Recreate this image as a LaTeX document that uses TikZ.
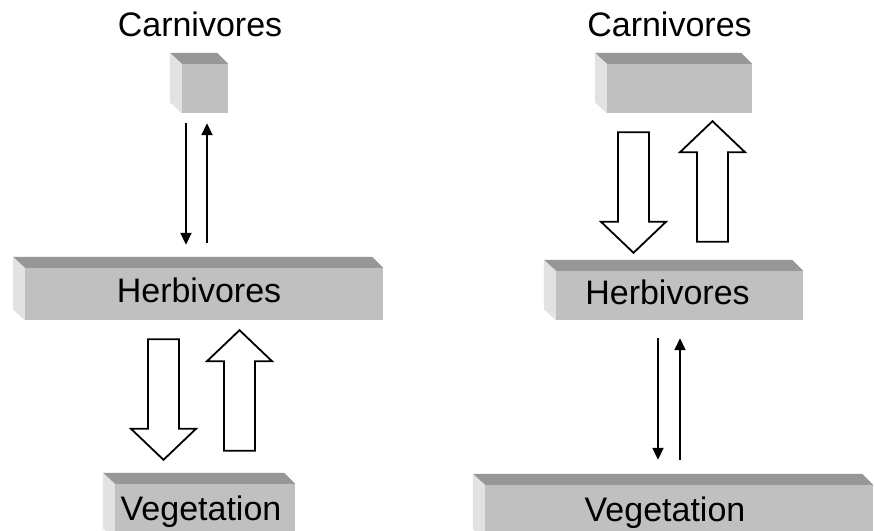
\documentclass[tikz,border=0pt]{standalone}
\usepackage{fontspec}
\setmainfont{Liberation Sans}
\usetikzlibrary{calc,arrows.meta}
\definecolor{slabfront}{HTML}{C0C0C0}
\definecolor{slabtop}{HTML}{979797}
\definecolor{slabside}{HTML}{E2E2E2}
\tikzset{
  slab/.style={fill=slabfront, inner sep=0pt, font=\fontsize{34}{38}\selectfont, text height=24pt, text depth=7pt},
  lbl/.style={font=\fontsize{34}{38}\selectfont, inner sep=0pt},
  thinarrow/.style={line width=1.8pt, -{Triangle[length=12pt,width=11pt]}},
  fatarrow/.style={draw=black, fill=white, line width=1.8pt, line join=miter,
    to path={(\tikztostart) coordinate (fs) (\tikztotarget) coordinate (ft)
      ($(ft)!31pt!(fs)$) coordinate (fh)
      ($(fs)!15.5pt!90:(ft)$) -- ($(fh)!15.5pt!90:(ft)$) -- ($(fh)!32.5pt!90:(ft)$) -- (ft)
      -- ($(fh)!32.5pt!-90:(ft)$) -- ($(fh)!15.5pt!-90:(ft)$) -- ($(fs)!15.5pt!-90:(ft)$) -- cycle}}
}
\begin{document}
\begin{tikzpicture}[x=1pt,y=-1pt]
\clip (0,0) rectangle (875,530); \fill[white] (0,0) rectangle (875,530);

% left chain
\node [slab, minimum width=46pt, minimum height=49pt] (lcarn) at (205,88.5) {};
\node [slab, minimum width=358pt, minimum height=52pt] (lherb) at (204,294) {\kern-10pt Herbivores};
\node [slab, minimum width=180pt, minimum height=55pt] (lveg) at (205,511.5) {\kern-8pt Vegetation};
\node [lbl, anchor=base] (lcarnlbl) at ($(lcarn.north)+(-5,-27)$) {Carnivores};

% right chain
\node [slab, minimum width=145pt, minimum height=49pt] (rcarn) at (679.5,88.5) {};
\node [slab, minimum width=247pt, minimum height=49pt] (rherb) at (679.5,295.5) {\kern-24pt Herbivores};
\node [slab, minimum width=388pt, minimum height=55pt] (rveg) at (679,512.5) {\kern-28pt Vegetation};
\node [lbl, anchor=base] (rcarnlbl) at ($(rcarn.north)+(-10,-27)$) {Carnivores};

% top and side faces
\foreach \b in {lcarn,lherb,lveg,rcarn,rherb,rveg} {
  \fill [slabtop] (\b.north west) -- ++(-12,-11) -- ($(\b.north east)+(-11,-11)$) -- (\b.north east) -- cycle;
  \fill [slabside] (\b.north west) -- ++(-12,-11) -- ($(\b.south west)+(-12,-11)$) -- (\b.south west) -- cycle;
}

\draw [thinarrow] ($(lcarn.south)+(-19,10)$) -- ($(lherb.north)+(-18,-23)$);
\draw [thinarrow] ($(lherb.north)+(3,-25)$) -- ($(lcarn.south)+(2,10)$);
\draw [fatarrow] ($(lherb.south)+(-40.5,19)$) to ($(lveg.north)+(-41.5,-24)$);
\draw [fatarrow] ($(lveg.north)+(34.5,-33)$) to ($(lherb.south)+(35.5,10)$);

\draw [fatarrow] ($(rcarn.south)+(-46,19)$) to ($(rherb.north)+(-46,-18)$);
\draw [fatarrow] ($(rherb.north)+(33,-29)$) to ($(rcarn.south)+(33,8)$);
\draw [thinarrow] ($(rherb.south)+(-21.5,18)$) -- ($(rveg.north)+(-21,-25)$);
\draw [thinarrow] ($(rveg.north)+(1,-25)$) -- ($(rherb.south)+(0.5,18)$);
\end{tikzpicture}
\end{document}
